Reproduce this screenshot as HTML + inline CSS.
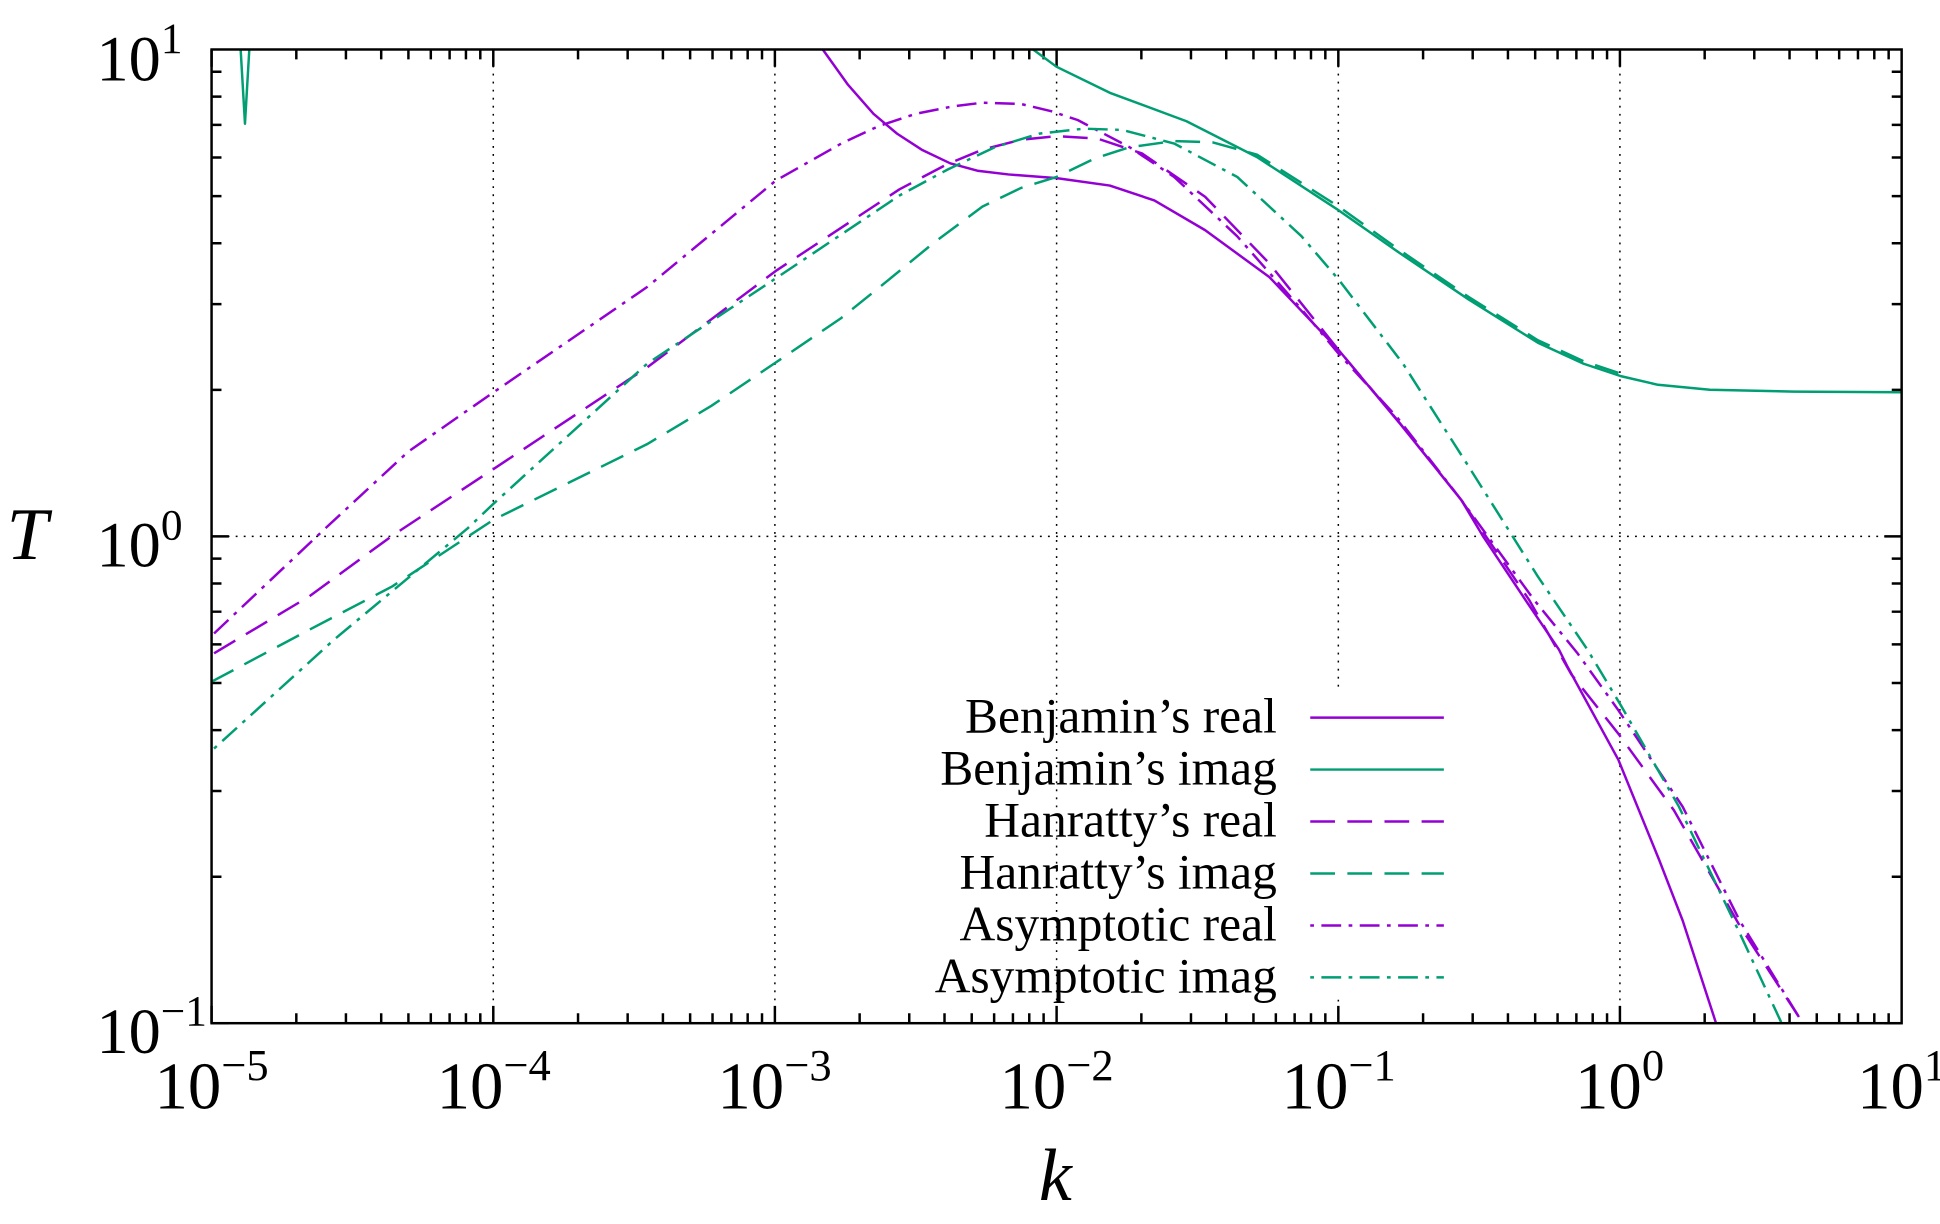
<!DOCTYPE html>
<html><head><meta charset="utf-8"><style>
html,body{margin:0;padding:0;background:#fff}
svg{display:block}
text{font-family:"Liberation Serif","DejaVu Serif",serif;fill:#000}
</style></head><body>
<svg width="1940" height="1224" viewBox="0 0 1568 989.3" preserveAspectRatio="none" xmlns="http://www.w3.org/2000/svg">
<g stroke="#000" stroke-width="1.2" stroke-dasharray="1.5,5" fill="none">
<line x1="398.7" y1="40" x2="398.7" y2="827"/>
<line x1="626.3" y1="40" x2="626.3" y2="827"/>
<line x1="854" y1="40" x2="854" y2="827"/>
<line x1="1081.7" y1="40" x2="1081.7" y2="560"/>
<line x1="1081.7" y1="808" x2="1081.7" y2="827"/>
<line x1="1309.3" y1="40" x2="1309.3" y2="827"/>
<line x1="171" y1="433.5" x2="1537" y2="433.5"/>
</g>
<g stroke="#000" stroke-width="2" fill="none">
<path d="M171,827v-14M239.5,827v-8M279.6,827v-8M308.1,827v-8M330.1,827v-8M348.2,827v-8M363.4,827v-8M376.6,827v-8M388.2,827v-8
M398.7,827v-14M467.2,827v-8M507.3,827v-8M535.8,827v-8M557.8,827v-8M575.9,827v-8M591.1,827v-8M604.3,827v-8M615.9,827v-8
M626.3,827v-14M694.8,827v-8M734.9,827v-8M763.4,827v-8M785.4,827v-8M803.5,827v-8M818.7,827v-8M831.9,827v-8M843.5,827v-8
M854,827v-14M922.5,827v-8M962.6,827v-8M991.1,827v-8M1013.1,827v-8M1031.2,827v-8M1046.4,827v-8M1059.6,827v-8M1071.2,827v-8
M1081.7,827v-14M1150.2,827v-8M1190.3,827v-8M1218.8,827v-8M1240.8,827v-8M1258.9,827v-8M1274.1,827v-8M1287.3,827v-8M1298.9,827v-8
M1309.3,827v-14M1377.8,827v-8M1417.9,827v-8M1446.4,827v-8M1468.4,827v-8M1486.5,827v-8M1501.7,827v-8M1514.9,827v-8M1526.5,827v-8"/>
<path d="M171,40v14M239.5,40v8M279.6,40v8M308.1,40v8M330.1,40v8M348.2,40v8M363.4,40v8M376.6,40v8M388.2,40v8
M398.7,40v14M467.2,40v8M507.3,40v8M535.8,40v8M557.8,40v8M575.9,40v8M591.1,40v8M604.3,40v8M615.9,40v8
M626.3,40v14M694.8,40v8M734.9,40v8M763.4,40v8M785.4,40v8M803.5,40v8M818.7,40v8M831.9,40v8M843.5,40v8
M854,40v14M922.5,40v8M962.6,40v8M991.1,40v8M1013.1,40v8M1031.2,40v8M1046.4,40v8M1059.6,40v8M1071.2,40v8
M1081.7,40v14M1150.2,40v8M1190.3,40v8M1218.8,40v8M1240.8,40v8M1258.9,40v8M1274.1,40v8M1287.3,40v8M1298.9,40v8
M1309.3,40v14M1377.8,40v8M1417.9,40v8M1446.4,40v8M1468.4,40v8M1486.5,40v8M1501.7,40v8M1514.9,40v8M1526.5,40v8"/>
<path d="M171,827h14M171,708.6h8M171,639.3h8M171,590.1h8M171,552h8M171,520.8h8M171,494.4h8M171,471.6h8M171,451.5h8
M171,433.5h14M171,315.1h8M171,245.8h8M171,196.6h8M171,158.5h8M171,127.3h8M171,100.9h8M171,78.1h8M171,58h8
M1537,827h-14M1537,708.6h-8M1537,639.3h-8M1537,590.1h-8M1537,552h-8M1537,520.8h-8M1537,494.4h-8M1537,471.6h-8M1537,451.5h-8
M1537,433.5h-14M1537,315.1h-8M1537,245.8h-8M1537,196.6h-8M1537,158.5h-8M1537,127.3h-8M1537,100.9h-8M1537,78.1h-8M1537,58h-8"/>
</g>
<g fill="none" stroke-width="2" stroke-linejoin="round">
<polyline stroke="#9400d3" points="665,40 685,68 706,92 725,108 745,121 768,132 790,138 815,141 854,144 897,150 933,162 974,186 1026,224 1082,283 1132,343 1181,404 1199,434 1233,485 1260,525 1267,539 1308,614 1341,695 1360,744 1387,827"/>
<polyline stroke="#009e73" points="194.5,40 198,100 201.5,40"/>
<polyline stroke="#009e73" points="835,40 854,54 897,75 959,98 1016,127 1082,170 1132,205 1187,242 1243,277 1280,294 1310,304 1340,311 1382,315 1450,316.5 1537,317"/>
<polyline stroke="#9400d3" stroke-dasharray="20,10" points="173,528 250,482 317,433 399,379 523,297 627,219 727,153 765,133 794,121 825,113 854,110 887,112 923,124 974,159 1026,213 1082,283 1129,339 1181,404 1236,485 1270,545 1308,593 1353,655 1406,748 1454,822"/>
<polyline stroke="#009e73" stroke-dasharray="20,10" points="171,551 250,509 317,474 399,420 460,390 523,359 575,328 627,293 680,257 716,228 755,196 794,167 825,152 854,143 885,128 913,119 949,114 980,115 1016,125 1082,167 1131,202 1187,240 1243,275 1280,292 1310,302"/>
<polyline stroke="#9400d3" stroke-dasharray="16,6,3,6" points="173,512 263,427 330,365 399,317 523,232 627,146 680,116 710,102 740,92 770,86 794,83 825,84 850,90 871,97 913,119 949,143 1000,191 1052,250 1082,286 1129,337 1181,404 1240,485 1275,528 1308,574 1360,652 1406,744 1454,822"/>
<polyline stroke="#009e73" stroke-dasharray="3,6,16,6" points="173,605 270,517 378,427 399,407 523,294 627,225 727,158 766,137 804,119 840,108 876,104 907,105 949,116 1000,143 1052,191 1082,226 1134,294 1187,377 1243,466 1283,525 1310,570 1357,652 1406,754 1440,827"/>
</g>
<g stroke-width="2" fill="none">
<line x1="1059" y1="580" x2="1167" y2="580" stroke="#9400d3"/>
<line x1="1059" y1="622" x2="1167" y2="622" stroke="#009e73"/>
<line x1="1059" y1="664" x2="1167" y2="664" stroke="#9400d3" stroke-dasharray="20,10"/>
<line x1="1059" y1="706" x2="1167" y2="706" stroke="#009e73" stroke-dasharray="20,10"/>
<line x1="1059" y1="748" x2="1167" y2="748" stroke="#9400d3" stroke-dasharray="3,6,16,6"/>
<line x1="1059" y1="790" x2="1167" y2="790" stroke="#009e73" stroke-dasharray="3,6,16,6"/>
</g>
<g font-size="40" text-anchor="end">
<text x="1032" y="592">Benjamin’s real</text>
<text x="1032" y="634">Benjamin’s imag</text>
<text x="1032" y="676">Hanratty’s real</text>
<text x="1032" y="718">Hanratty’s imag</text>
<text x="1032" y="760">Asymptotic real</text>
<text x="1032" y="802">Asymptotic imag</text>
</g>
<rect x="171" y="40" width="1366" height="787" fill="none" stroke="#000" stroke-width="2"/>
<g font-size="54" text-anchor="middle">
<text x="171" y="896">10<tspan font-size="36" dy="-23">−5</tspan></text>
<text x="399" y="896">10<tspan font-size="36" dy="-23">−4</tspan></text>
<text x="626" y="896">10<tspan font-size="36" dy="-23">−3</tspan></text>
<text x="854" y="896">10<tspan font-size="36" dy="-23">−2</tspan></text>
<text x="1082" y="896">10<tspan font-size="36" dy="-23">−1</tspan></text>
<text x="1309" y="896">10<tspan font-size="36" dy="-23">0</tspan></text>
<text x="1537" y="896">10<tspan font-size="36" dy="-23">1</tspan></text>
</g>
<g font-size="52">
<text x="78" y="65">10<tspan font-size="35" dy="-22">1</tspan></text>
<text x="78" y="458">10<tspan font-size="35" dy="-22">0</tspan></text>
<text x="78" y="851">10<tspan font-size="35" dy="-22">−1</tspan></text>
</g>
<text x="22" y="452" font-size="60" font-style="italic" text-anchor="middle">T</text>
<text x="853" y="970" font-size="60" font-style="italic" text-anchor="middle">k</text>
</svg>
</body></html>
